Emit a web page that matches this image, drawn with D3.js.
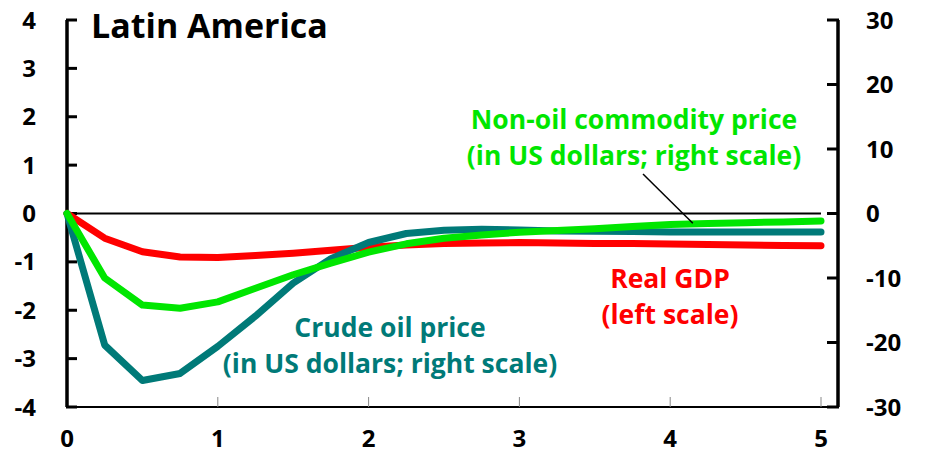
<!DOCTYPE html>
<html>

<head>
    <title>Latin America</title>
    <script src="https://cdn.jsdelivr.net/npm/d3@7"></script>
    <style>
        body { margin: 0; background: #fff; }
        text { font-family: "Open Sans", sans-serif; font-weight: bold; }
    </style>
</head>

<body>
    <svg width="926" height="455" id="mainsvg"></svg>
    <script>
        // quarters after the shock, in years
        const YEARS = d3.range(0, 5.01, 0.25);
        const X_TICKS = [0, 1, 2, 3, 4, 5];
        const LEFT_TICKS = [-4, -3, -2, -1, 0, 1, 2, 3, 4];
        const RIGHT_TICKS = [-30, -20, -10, 0, 10, 20, 30];

        // real GDP, left scale
        const GDP = [0, -0.51, -0.79, -0.90, -0.91, -0.87, -0.82, -0.76, -0.70, -0.65, -0.62, -0.61, -0.60,
            -0.61, -0.62, -0.62, -0.63, -0.64, -0.65, -0.66, -0.665];
        // crude oil price, right scale
        const OIL = [0, -20.4, -25.9, -24.8, -20.6, -15.9, -10.8, -7.0, -4.5, -3.1, -2.6, -2.45, -2.55,
            -2.7, -2.75, -2.8, -2.85, -2.85, -2.85, -2.85, -2.85];
        // non-oil commodity price, right scale
        const NONOIL = [0, -10.0, -14.2, -14.7, -13.7, -11.6, -9.5, -7.7, -6.0, -4.7, -3.85, -3.35, -2.9,
            -2.65, -2.35, -2.0, -1.7, -1.55, -1.42, -1.3, -1.15];

        const svg = d3.select('svg');
        const xScale = d3.scaleLinear().domain([0, 5]).range([67, 821]);
        const yLeft = d3.scaleLinear().domain([-4, 4]).range([407, 20]);
        const yRight = d3.scaleLinear().domain([-30, 30]).range([407, 20]);
        const rightX = 838;

        // bottom axis line and thin inner ticks
        svg.append('line').attr('x1', 67).attr('x2', rightX)
            .attr('y1', yLeft(-4)).attr('y2', yLeft(-4))
            .attr('stroke', '#000').attr('stroke-width', 2);
        svg.selectAll('.xtick').data(X_TICKS.slice(1)).join('line')
            .attr('class', 'xtick')
            .attr('x1', d => xScale(d)).attr('x2', d => xScale(d))
            .attr('y1', yLeft(-4)).attr('y2', yLeft(-4) - 10)
            .attr('stroke', '#888').attr('stroke-width', 1);
        svg.selectAll('.xlabel').data(X_TICKS).join('text')
            .attr('class', 'xlabel')
            .attr('x', d => xScale(d)).attr('y', 447)
            .attr('text-anchor', 'middle').attr('font-size', 24)
            .text(d => d);

        // zero line
        svg.append('line').attr('x1', 67).attr('x2', xScale(5))
            .attr('y1', yLeft(0)).attr('y2', yLeft(0))
            .attr('stroke', '#000').attr('stroke-width', 2);

        // left axis
        const leftAxis = svg.append('g');
        leftAxis.append('line').attr('x1', 67).attr('x2', 67)
            .attr('y1', yLeft(4)).attr('y2', yLeft(-4))
            .attr('stroke', '#000').attr('stroke-width', 3.5);
        leftAxis.selectAll('.ltick').data(LEFT_TICKS).join('line')
            .attr('class', 'ltick')
            .attr('x1', 66).attr('x2', 77)
            .attr('y1', d => yLeft(d)).attr('y2', d => yLeft(d))
            .attr('stroke', '#000').attr('stroke-width', 3);
        leftAxis.selectAll('.llabel').data(LEFT_TICKS).join('text')
            .attr('class', 'llabel')
            .attr('x', 36).attr('y', d => yLeft(d) + 8.5)
            .attr('text-anchor', 'end').attr('font-size', 24)
            .text(d => d);

        // right axis
        const rightAxis = svg.append('g');
        rightAxis.append('line').attr('x1', rightX).attr('x2', rightX)
            .attr('y1', yRight(30)).attr('y2', yRight(-30))
            .attr('stroke', '#000').attr('stroke-width', 3.5);
        rightAxis.selectAll('.rtick').data(RIGHT_TICKS).join('line')
            .attr('class', 'rtick')
            .attr('x1', rightX - 11).attr('x2', rightX + 1)
            .attr('y1', d => yRight(d)).attr('y2', d => yRight(d))
            .attr('stroke', '#000').attr('stroke-width', 3);
        rightAxis.selectAll('.rlabel').data(RIGHT_TICKS).join('text')
            .attr('class', 'rlabel')
            .attr('x', 866).attr('y', d => yRight(d) + 8.5)
            .attr('text-anchor', 'start').attr('font-size', 24)
            .text(d => d);

        // series
        const series = [
            {key: 'gdp', values: GDP, y: yLeft, color: '#ff0000'},
            {key: 'oil', values: OIL, y: yRight, color: '#007a78'},
            {key: 'nonoil', values: NONOIL, y: yRight, color: '#00e600'}
        ];
        svg.selectAll('.series').data(series, d => d.key).join('path')
            .attr('class', 'series')
            .attr('d', s => d3.line().x((v, i) => xScale(YEARS[i])).y(v => s.y(v))(s.values))
            .attr('fill', 'none').attr('stroke', s => s.color)
            .attr('stroke-width', 7).attr('stroke-linecap', 'round').attr('stroke-linejoin', 'round');

        // annotation pointer to the non-oil line
        svg.append('line').attr('x1', 643).attr('y1', 174)
            .attr('x2', xScale(4.15)).attr('y2', yRight(-1.5))
            .attr('stroke', '#000').attr('stroke-width', 1.5);

        // title and labels
        svg.append('text').attr('x', 91).attr('y', 38).attr('font-size', 34).text('Latin America');

        const labels = [
            {lines: ['Non-oil commodity price', '(in US dollars; right scale)'], x: 634, y: 129, color: '#00e600'},
            {lines: ['Crude oil price', '(in US dollars; right scale)'], x: 390, y: 337, color: '#007a78'},
            {lines: ['Real GDP', '(left scale)'], x: 670, y: 288, color: '#ff0000'}
        ];
        labels.forEach(l => {
            svg.append('text')
                .attr('text-anchor', 'middle').attr('font-size', 26.5).attr('fill', l.color)
                .selectAll('tspan').data(l.lines).join('tspan')
                .attr('x', l.x).attr('y', (d, i) => l.y + i * 36)
                .text(d => d);
        });
    </script>
</body>

</html>
